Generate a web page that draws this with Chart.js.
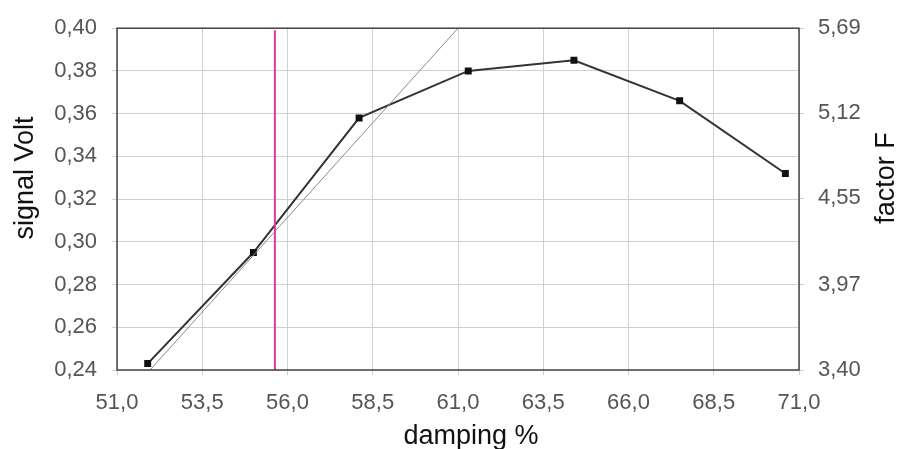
<!DOCTYPE html>
<html>
<head>
<meta charset="utf-8">
<script src="https://cdn.jsdelivr.net/npm/chart.js@4"></script>
<style>
  html, body { margin: 0; padding: 0; background: #fff; }
  #wrap { width: 898px; height: 449px; }
</style>
</head>
<body>
<div id="wrap"><canvas id="dampingChart" width="898" height="449"></canvas></div>
<script>
// measured points
var dampingValues = [51.9, 55.0, 58.1, 61.3, 64.4, 67.5, 70.6];
var signalValues = [0.243, 0.295, 0.358, 0.380, 0.385, 0.366, 0.332];

// thin tangent line through the rising part
var tangentX = [51.97, 61.0];
var tangentY = [0.240, 0.400];

// vertical marker
var markerX = [55.63, 55.63];
var markerY = [0.240, 0.399];

// right axis ticks
var factorTicks = [3.40, 3.97, 4.55, 5.12, 5.69];

var fontFamily = "'Liberation Sans', Arial, sans-serif";

function toPoints(xs, ys) {
    return xs.map(function (x, i) { return { x: x, y: ys[i] }; });
}

// frame around the plot + axis titles
var framePlugin = {
    id: 'framePlugin',
    afterDraw: function (chart) {
        var ctx = chart.ctx;
        var a = chart.chartArea;
        ctx.save();
        ctx.strokeStyle = '#444';
        ctx.lineWidth = 1.5;
        ctx.strokeRect(a.left, a.top, a.right - a.left, a.bottom - a.top);

        ctx.fillStyle = '#111';
        ctx.font = '27px ' + fontFamily;
        ctx.textAlign = 'center';
        ctx.textBaseline = 'middle';

        ctx.fillText('damping %', 471, 437);

        ctx.save();
        ctx.translate(26, 178);
        ctx.rotate(-Math.PI / 2);
        ctx.fillText('signal Volt', 0, 0);
        ctx.restore();

        ctx.save();
        ctx.translate(887, 178);
        ctx.rotate(-Math.PI / 2);
        ctx.fillText('factor F', 0, 0);
        ctx.restore();
        ctx.restore();
    }
};

var ctx = document.getElementById('dampingChart').getContext('2d');
new Chart(ctx, {
    type: 'scatter',
    data: {
        datasets: [
            {
                label: 'marker',
                data: toPoints(markerX, markerY),
                showLine: true,
                borderColor: '#d83aa2',
                borderWidth: 2,
                pointRadius: 0
            },
            {
                label: 'tangent',
                data: toPoints(tangentX, tangentY),
                showLine: true,
                borderColor: '#8a8a8a',
                borderWidth: 1,
                pointRadius: 0
            },
            {
                label: 'signal',
                data: toPoints(dampingValues, signalValues),
                showLine: true,
                borderColor: '#333',
                borderWidth: 2,
                pointStyle: 'rect',
                pointRadius: 3.5,
                pointBackgroundColor: '#111',
                pointBorderColor: '#111'
            }
        ]
    },
    plugins: [framePlugin],
    options: {
        responsive: false,
        animation: false,
        layout: { padding: { top: 27, left: 0, right: 0, bottom: 0 } },
        plugins: {
            legend: { display: false },
            tooltip: { enabled: false }
        },
        scales: {
            x: {
                type: 'linear',
                min: 51,
                max: 71,
                afterFit: function (scale) { scale.height = 79; },
                ticks: {
                    stepSize: 2.5,
                    padding: 15,
                    color: '#555',
                    font: { family: fontFamily, size: 22 },
                    callback: function (value) { return value.toFixed(1).replace('.', ','); }
                },
                grid: { color: '#d0d0d0', tickLength: 5 },
                border: { display: false }
            },
            y: {
                position: 'left',
                min: 0.24,
                max: 0.40,
                afterFit: function (scale) { scale.width = 117; },
                ticks: {
                    stepSize: 0.02,
                    padding: 15,
                    color: '#555',
                    font: { family: fontFamily, size: 22 },
                    callback: function (value) { return value.toFixed(2).replace('.', ','); }
                },
                grid: { color: '#d0d0d0', tickLength: 5 },
                border: { display: false }
            },
            y1: {
                position: 'right',
                min: 3.40,
                max: 5.69,
                afterFit: function (scale) { scale.width = 99; },
                afterBuildTicks: function (scale) {
                    scale.ticks = factorTicks.map(function (v) { return { value: v }; });
                },
                ticks: {
                    padding: 14,
                    color: '#555',
                    font: { family: fontFamily, size: 22 },
                    callback: function (value) { return value.toFixed(2).replace('.', ','); }
                },
                grid: { drawOnChartArea: false, color: '#d0d0d0', tickLength: 5 },
                border: { display: false }
            }
        }
    }
});
</script>
</body>
</html>
